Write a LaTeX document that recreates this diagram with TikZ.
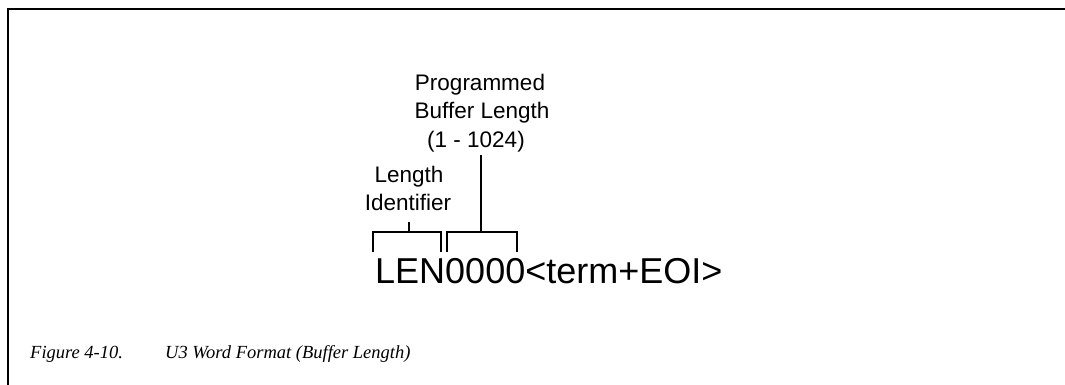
\documentclass[tikz,border=0pt]{standalone}
\usepackage{fontspec}
\newfontfamily\helv{Liberation Sans}
\newfontfamily\capserif{Liberation Serif}
\begin{document}
\begin{tikzpicture}[x=1pt,y=-1pt,
  lbl/.style={font=\helv\fontsize{22.5}{28}\selectfont, inner sep=0pt, anchor=base},
  capt/.style={font=\capserif\itshape\fontsize{18.5}{24}\selectfont, inner sep=0pt, anchor=base west},
  brk/.style={line width=1.6pt},
  frm/.style={line width=2pt}]
\useasboundingbox (0,0) rectangle (1065,385);
% frame
\coordinate (ftl) at (8,9);
\coordinate (ftr) at (1065,9);
\coordinate (fbl) at (8,385);
\draw[frm] (ftr) -- (ftl) -- (fbl);
% labels
\node[lbl] (p1) at (480,91) {Programmed};
\node[lbl] (p2) at (482,119) {Buffer Length};
\node[lbl] (p3) at (476,147) {(1 - 1024)};
\node[lbl] (l1) at (409,182) {Length};
\node[lbl] (l2) at (408,210) {Identifier};
% brackets
\coordinate (s1top) at (481,155);
\coordinate (s1bot) at (481,232);
\coordinate (t1top) at (409,222);
\coordinate (t1bot) at (409,232);
\draw[brk] (373,252) -- (373,232) -- (441,232) -- (441,252);
\draw[brk] (447,252) -- (447,232) -- (517,232) -- (517,252);
\draw[brk] (s1top) -- (s1bot);
\draw[brk] (t1top) -- (t1bot);
% main text
\node[font=\helv\fontsize{36}{40}\selectfont, inner sep=0pt, anchor=base west] (main) at (375,283) {LEN0000<term+EOI>};
% caption
\node[capt] (cap1) at (30,358) {Figure 4-10.};
\node[capt] (cap2) at (165,358) {U3 Word Format (Buffer Length)};
\end{tikzpicture}
\end{document}
